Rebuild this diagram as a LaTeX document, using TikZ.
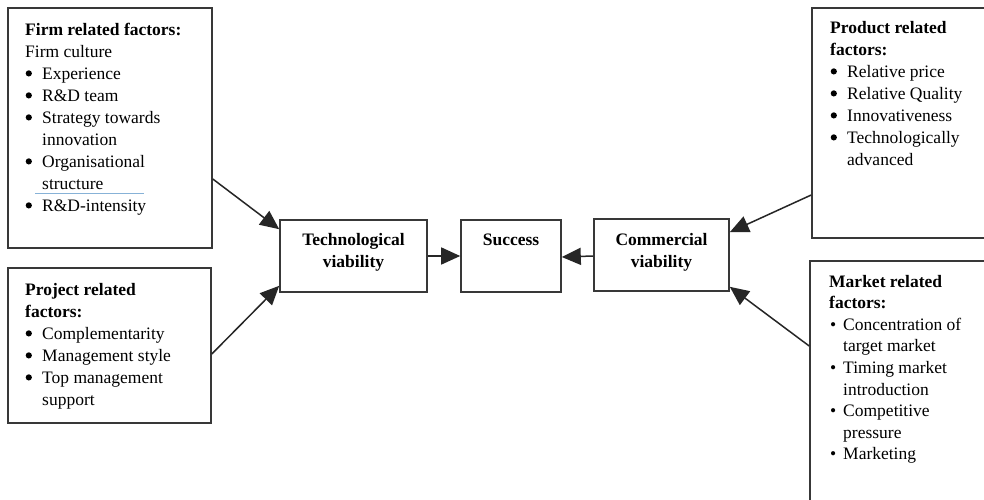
\documentclass[tikz,border=0pt]{standalone}
\usepackage{fontspec}
\setmainfont{Liberation Serif}
\usetikzlibrary{arrows.meta}
\definecolor{ulblue}{RGB}{135,178,215}
\newcommand\bbul{\makebox[17pt][l]{\hspace{0.5pt}\tikz[baseline=0pt]\fill (3.3pt,5.6pt) circle (3.1pt);}}
\newcommand\sbul{\makebox[14pt][l]{\hspace{1pt}\textbullet}}
\newcommand\bind{\hspace{17pt}}
\newcommand\sind{\hspace{14pt}}
\begin{document}
\begin{tikzpicture}[x=1pt,y=-1pt,
  box/.style={draw=black!78, line width=1.6pt, inner sep=0, minimum width=#1},
  txt/.style={anchor=base west, inner sep=0, font=\fontsize{17.5}{22}\selectfont},
  ctxt/.style={anchor=base, inner sep=0, font=\fontsize{17.5}{22}\selectfont\bfseries},
  arr/.style={draw=black!85, line width=1.5pt, -{Triangle[length=19pt,width=17pt]}}
]
\clip (0,0) rectangle (984,499);
\fill[white] (0,0) rectangle (984,499);

% factor boxes
\node[box=204, minimum height=240] (firm) at (110,128) {};
\node[box=203, minimum height=155] (proj) at (109.5,345.5) {};
\node[box=200, minimum height=230] (prod) at (912,123) {};
\node[box=200, minimum height=259] (mkt) at (910,390.5) {};

% central boxes
\node[box=147, minimum height=72] (tech) at (353.5,256) {};
\node[box=100, minimum height=72] (succ) at (511,256) {};
\node[box=135, minimum height=72] (comm) at (661.5,255) {};

% texts
\node[txt] (firmtxt) at (25,35) {\begin{tabular}[t]{@{}l@{}}
\textbf{Firm related factors:}\\
Firm culture\\
\bbul Experience\\
\bbul R\&D team\\
\bbul Strategy towards\\
\bind innovation\\
\bbul Organisational\\
\bind structure\\
\bbul R\&D-intensity
\end{tabular}};
\draw[ulblue, line width=1pt] (35,193) -- (144,193);

\node[txt] (projtxt) at (25,295) {\begin{tabular}[t]{@{}l@{}}
\textbf{Project related}\\
\textbf{factors:}\\
\bbul Complementarity\\
\bbul Management style\\
\bbul Top management\\
\bind support
\end{tabular}};

\node[txt] (prodtxt) at (830,33) {\begin{tabular}[t]{@{}l@{}}
\textbf{Product related}\\
\textbf{factors:}\\
\bbul Relative price\\
\bbul Relative Quality\\
\bbul Innovativeness\\
\bbul Technologically\\
\bind advanced
\end{tabular}};

\node[txt, font=\fontsize{17.5}{21.6}\selectfont] (mkttxt) at (829,287) {\begin{tabular}[t]{@{}l@{}}
\textbf{Market related}\\
\textbf{factors:}\\
\sbul Concentration of\\
\sind target market\\
\sbul Timing market\\
\sind introduction\\
\sbul Competitive\\
\sind pressure\\
\sbul Marketing
\end{tabular}};

\node[ctxt] (techtxt) at (353.5,245) {\begin{tabular}[t]{@{}c@{}}Technological\\viability\end{tabular}};
\node[ctxt] (succtxt) at (511,245) {Success};
\node[ctxt] (commtxt) at (661.5,245) {\begin{tabular}[t]{@{}c@{}}Commercial\\viability\end{tabular}};

% connectors
\draw[arr] ([yshift=-51pt]firm.east) -- ([yshift=-10pt]tech.north west);
\draw[arr] ([yshift=-8.5pt]proj.east) -- ([yshift=7pt]tech.south west);
\draw[arr] (tech.east) -- (succ.west);
\draw[arr] ([yshift=-1pt]comm.west) -- ([yshift=-1pt]succ.east);
\draw[arr] ([yshift=-72pt]prod.west) -- ([yshift=-14pt]comm.north east);
\draw[arr] ([yshift=44.5pt]mkt.west) -- ([yshift=5pt]comm.south east);
\end{tikzpicture}
\end{document}
